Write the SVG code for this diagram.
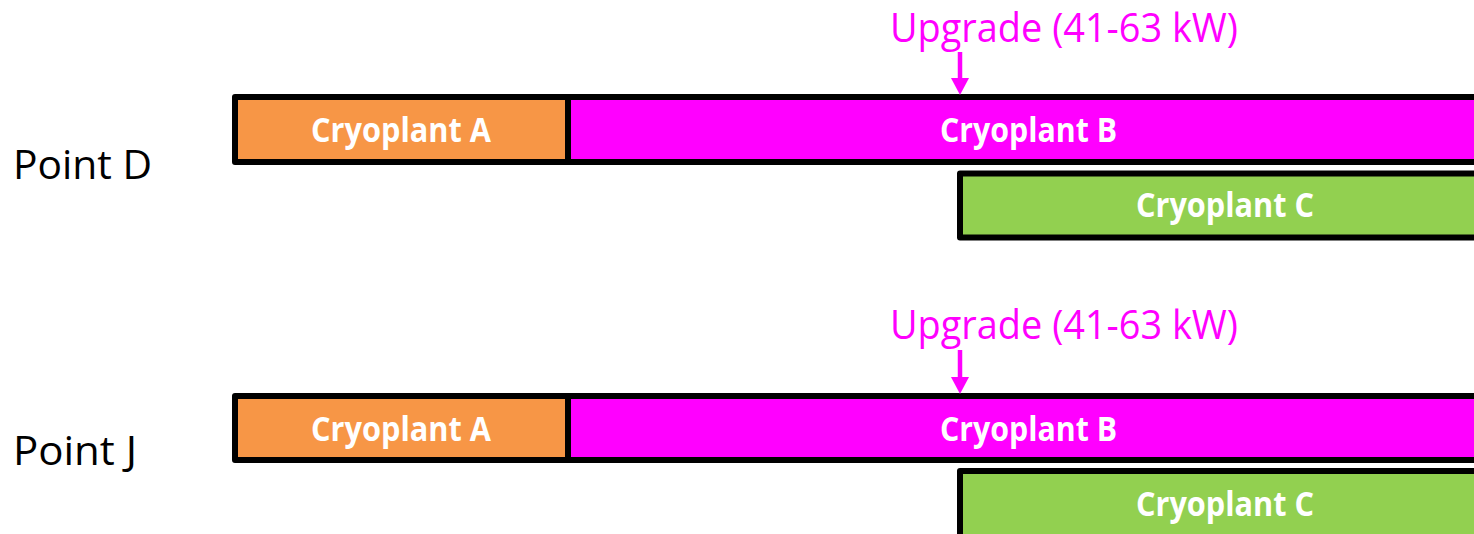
<svg xmlns="http://www.w3.org/2000/svg" width="1474" height="534" viewBox="0 0 1474 534">
  <style>
    .box { stroke: #000; stroke-width: 6; stroke-linejoin: round; }
    .a { fill: #F79646; }
    .b { fill: #FF00FF; }
    .c { fill: #92D050; }
    .lbl { font-family: "Open Sans", "Liberation Sans", sans-serif; font-weight: bold; font-size: 34px; fill: #FFFFFF; }
    .row { font-family: "Open Sans", "Liberation Sans", sans-serif; font-size: 40px; fill: #000000; }
    .note { font-family: "Open Sans", "Liberation Sans", sans-serif; font-size: 40px; fill: #FF00FF; }
    .shaft { stroke: #FF00FF; stroke-width: 4.5; fill: none; }
    .head { fill: #FF00FF; }
  </style>

  <!-- Point D -->
  <g id="row-d-label"><text class="row" x="13" y="179" textLength="139" lengthAdjust="spacingAndGlyphs">Point D</text></g>
  <g id="d-cryoplant-b">
    <rect class="box b" x="568" y="97" width="920" height="65"/>
    <text class="lbl" x="940" y="142" textLength="177" lengthAdjust="spacingAndGlyphs">Cryoplant B</text>
  </g>
  <g id="d-cryoplant-a">
    <rect class="box a" x="235" y="97" width="333" height="65"/>
    <text class="lbl" x="311" y="142" textLength="180" lengthAdjust="spacingAndGlyphs">Cryoplant A</text>
  </g>
  <g id="d-cryoplant-c">
    <rect class="box c" x="960" y="173.5" width="530" height="64"/>
    <text class="lbl" x="1136" y="217" textLength="178" lengthAdjust="spacingAndGlyphs">Cryoplant C</text>
  </g>
  <g id="d-upgrade"><text class="note" x="890" y="42" textLength="348" lengthAdjust="spacingAndGlyphs">Upgrade (41-63 kW)</text></g>

  <!-- Point J -->
  <g id="row-j-label"><text class="row" x="13" y="465" textLength="124" lengthAdjust="spacingAndGlyphs">Point J</text></g>
  <g id="j-cryoplant-b">
    <rect class="box b" x="568" y="396" width="920" height="64"/>
    <text class="lbl" x="940" y="441" textLength="177" lengthAdjust="spacingAndGlyphs">Cryoplant B</text>
  </g>
  <g id="j-cryoplant-a">
    <rect class="box a" x="235" y="396" width="333" height="64"/>
    <text class="lbl" x="311" y="441" textLength="180" lengthAdjust="spacingAndGlyphs">Cryoplant A</text>
  </g>
  <g id="j-cryoplant-c">
    <rect class="box c" x="960" y="471" width="530" height="100"/>
    <text class="lbl" x="1136" y="516" textLength="178" lengthAdjust="spacingAndGlyphs">Cryoplant C</text>
  </g>
  <g id="j-upgrade"><text class="note" x="890" y="339" textLength="348" lengthAdjust="spacingAndGlyphs">Upgrade (41-63 kW)</text></g>

  <!-- upgrade arrows -->
  <g id="connectors">
    <line class="shaft" x1="960" y1="52" x2="960" y2="80"/>
    <polygon class="head" points="951,78 969,78 960,95"/>
    <line class="shaft" x1="960" y1="350" x2="960" y2="379"/>
    <polygon class="head" points="951,377 969,377 960,394"/>
  </g>
</svg>
